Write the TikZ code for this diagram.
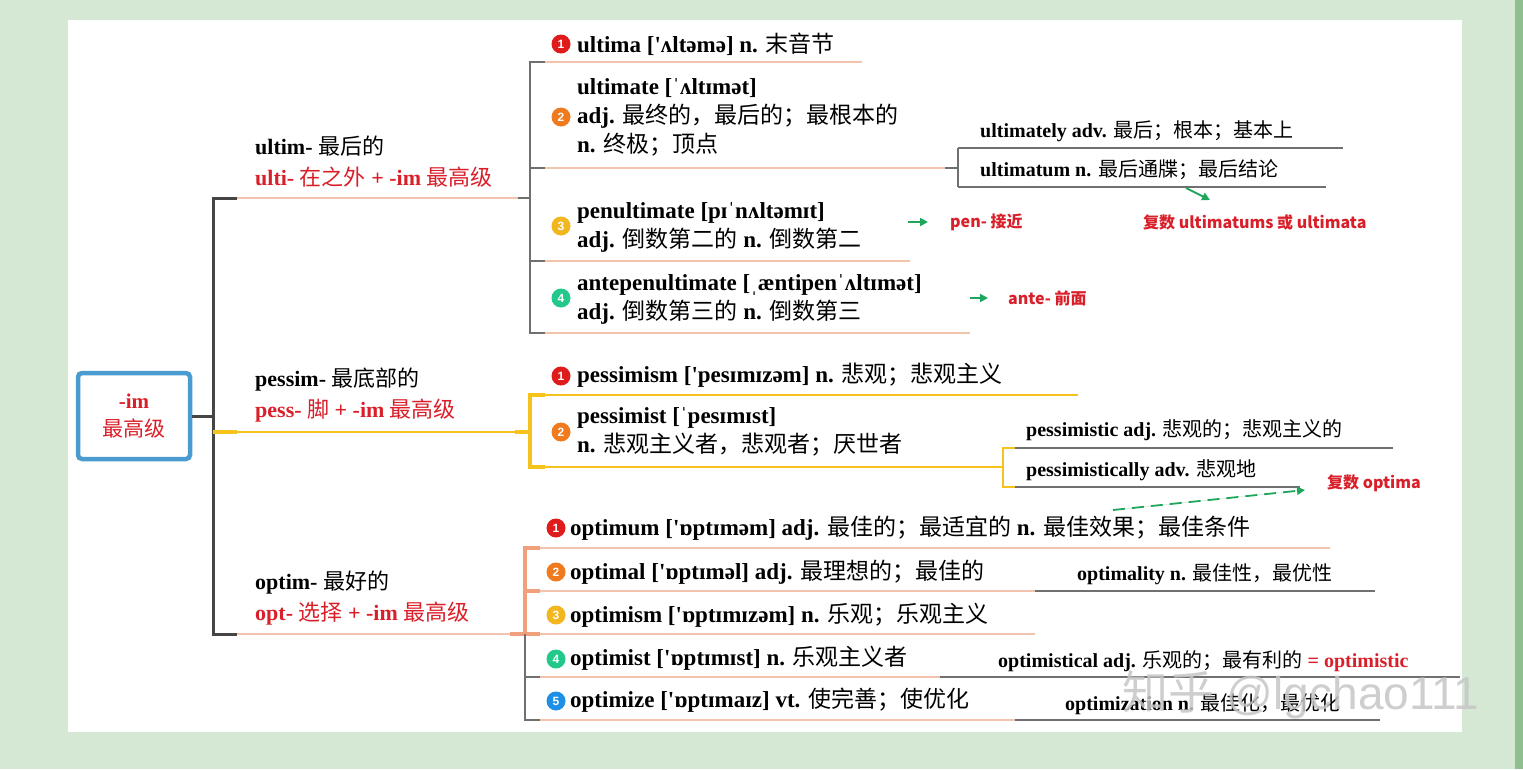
\documentclass[tikz,border=0pt]{standalone}
\usepackage{fontspec}
\setmainfont{Liberation Serif}
\setsansfont{Liberation Sans}
\newfontfamily\cjk{Noto Sans CJK SC}
\newcommand\zh[1]{{\cjk\mdseries #1}}
\usetikzlibrary{positioning,arrows.meta}
\definecolor{bgreen}{HTML}{D5E8D4}
\definecolor{stripgreen}{HTML}{8FBF8F}
\definecolor{redtxt}{HTML}{D9202A}
\definecolor{bluebox}{HTML}{4A9CD0}
\definecolor{darkln}{HTML}{454545}
\definecolor{grayln}{HTML}{707070}
\definecolor{peach}{HTML}{F2C4AE}
\definecolor{yellowln}{HTML}{F6C21C}
\definecolor{salmon}{HTML}{F0A07A}
\definecolor{arrowgreen}{HTML}{1FA65A}
\definecolor{n1}{HTML}{E01B1B}
\definecolor{n2}{HTML}{F07A1E}
\definecolor{n3}{HTML}{F2B61E}
\definecolor{n4}{HTML}{22C98A}
\definecolor{n5}{HTML}{1E8FE6}
\tikzset{
  word/.style={anchor=west,inner sep=0pt,align=left,font=\bfseries\fontsize{23}{29}\selectfont},
  stem/.style={anchor=west,inner sep=0pt,align=left,font=\bfseries\fontsize{22}{31}\selectfont},
  side/.style={anchor=west,inner sep=0pt,font=\bfseries\fontsize{20}{24}\selectfont},
  note/.style={anchor=west,inner sep=0pt,text=redtxt,font=\cjk\bfseries\fontsize{16}{18}\selectfont},
  num/.style={circle,fill=#1,text=white,inner sep=0pt,minimum size=19pt,font=\sffamily\bfseries\fontsize{12}{12}\selectfont},
  trunk/.style={draw=darkln,line width=3pt},
  twig/.style={draw=peach,line width=1.2pt},
  thin/.style={draw=grayln,line width=1.2pt},
  hint/.style={-{Triangle[length=8pt,width=8pt]},draw=arrowgreen,fill=arrowgreen,line width=1.8pt}
}
\begin{document}
\begin{tikzpicture}[x=1pt,y=-1pt]
\useasboundingbox (0,0) rectangle (1523,769);
\fill[bgreen] (0,0) rectangle (1523,769);
\fill[stripgreen] (1515,0) rectangle (1523,769);
\fill[white] (68,20) rectangle (1462,732);

% root and stems
\node[draw=bluebox,line width=4.5pt,rounded corners=4pt,minimum width=112pt,minimum height=86pt,
  align=center,text=redtxt,font=\bfseries\fontsize{21}{28}\selectfont] (root) at (134,416) {-im\\\zh{最高级}};
\node[stem] (ultim) at (255,162) {ultim- \zh{最后的}\\\color{redtxt}ulti- \zh{在之外} + -im \zh{最高级}};
\node[stem] (pessim) at (255,395) {pessim- \zh{最底部的}\\\color{redtxt}pess- \zh{脚} + -im \zh{最高级}};
\node[stem] (optim) at (255,598) {optim- \zh{最好的}\\\color{redtxt}opt- \zh{选择} + -im \zh{最高级}};

\draw[trunk] (root.east) -- (213,416);
\draw[trunk] (237,198) -- (213,198) -- (213,634) -- (237,634);
\draw[twig] (237,198) -- (530,198);
\draw[draw=yellowln,line width=1.5pt] (213,432) -- (530,432);
\draw[draw=yellowln,line width=4pt] (213,432) -- (237,432) (515,432) -- (530,432);
\draw[twig] (237,634) -- (510,634);

% ultim- words
\node[num=n1] (c11) at (561,44) {1};
\node[word] (ultima) at (577,44) {ultima [\textquotesingle ʌltəmə] n. \zh{末音节}};
\node[num=n2] (c12) at (561,117) {2};
\node[word] (ultimate) at (577,117) {ultimate [ˈʌltɪmət]\\adj. \zh{最终的，最后的；最根本的}\\n. \zh{终极；顶点}};
\node[num=n3] (c13) at (561,226) {3};
\node[word] (penult) at (577,227) {penultimate [pɪˈnʌltəmɪt]\\adj. \zh{倒数第二的} n. \zh{倒数第二}};
\node[num=n4] (c14) at (561,298) {4};
\node[word] (antepen) at (577,299) {antepenultimate [ˌæntipenˈʌltɪmət]\\adj. \zh{倒数第三的} n. \zh{倒数第三}};

\draw[thin] (545,62) -- (530,62) -- (530,333) -- (545,333);
\draw[thin] (530,168) -- (545,168) (530,261) -- (545,261) (518,198) -- (530,198);
\draw[twig] (545,62) -- (862,62) (545,168) -- (945,168) (545,261) -- (910,261) (545,333) -- (970,333);
\draw[thin] (945,168) -- (958,168) (958,148) -- (958,187);
\draw[thin] (958,148) -- (1343,148) (958,187) -- (1326,187);
\node[side] (ultimately) at (980,131) {ultimately adv. \zh{最后；根本；基本上}};
\node[side] (ultimatum) at (980,170) {ultimatum n. \zh{最后通牒；最后结论}};

\node[note] (pen) at (950,222) {pen- 接近};
\node[note] (ante) at (1008,298) {ante- 前面};
\node[note] (plural1) at (1143,222) {复数 ultimatums 或 ultimata};
\coordinate (a1) at (908,222); \coordinate (b1) at (928,222);
\coordinate (a2) at (970,298); \coordinate (b2) at (988,298);
\draw[hint] (a1) -- (b1);
\draw[hint] (a2) -- (b2);
\draw[hint] (1186,188) -- (1210,200);

% pessim- words
\node[num=n1] (c21) at (561,376) {1};
\node[word] (pessimism) at (577,375) {pessimism [\textquotesingle pesɪmɪzəm] n. \zh{悲观；悲观主义}};
\node[num=n2] (c22) at (561,432) {2};
\node[word] (pessimist) at (577,432) {pessimist [ˈpesɪmɪst]\\n. \zh{悲观主义者，悲观者；厌世者}};
\draw[draw=yellowln,line width=4pt] (545,395) -- (530,395) -- (530,467) -- (545,467);
\draw[draw=yellowln,line width=1.2pt] (545,395) -- (1078,395) (545,467) -- (1003,467);
\draw[draw=yellowln,line width=1.2pt] (1015,448) -- (1003,448) -- (1003,487) -- (1015,487);
\draw[thin] (1015,448) -- (1393,448) (1015,487) -- (1300,487);
\node[side] (pessimistic) at (1026,430) {pessimistic adj. \zh{悲观的；悲观主义的}};
\node[side] (pessimistically) at (1026,470) {pessimistically adv. \zh{悲观地}};
\node[note] (plural2) at (1327,483) {复数 optima};
\draw[hint,dashed,dash pattern=on 12pt off 7pt] (1113,510) -- (1305,490);

% optim- words
\node[num=n1] (c31) at (556,528) {1};
\node[word] (optimum) at (570,528) {optimum [\textquotesingle ɒptɪməm] adj. \zh{最佳的；最适宜的} n. \zh{最佳效果；最佳条件}};
\node[num=n2] (c32) at (556,572) {2};
\node[word] (optimal) at (570,572) {optimal [\textquotesingle ɒptɪməl] adj. \zh{最理想的；最佳的}};
\node[num=n3] (c33) at (556,615) {3};
\node[word] (optimism) at (570,615) {optimism [\textquotesingle ɒptɪmɪzəm] n. \zh{乐观；乐观主义}};
\node[num=n4] (c34) at (556,659) {4};
\node[word] (optimist) at (570,658) {optimist [\textquotesingle ɒptɪmɪst] n. \zh{乐观主义者}};
\node[num=n5] (c35) at (556,701) {5};
\node[word] (optimize) at (570,700) {optimize [\textquotesingle ɒptɪmaɪz] vt. \zh{使完善；使优化}};

\draw[draw=salmon,line width=4pt] (540,548) -- (525,548) -- (525,634);
\draw[draw=salmon,line width=4pt] (525,591) -- (540,591) (510,634) -- (540,634);
\draw[thin] (525,634) -- (525,720) -- (540,720) (525,677) -- (540,677);
\draw[twig] (540,548) -- (1330,548) (540,591) -- (1035,591) (540,634) -- (1035,634)
  (540,677) -- (940,677) (540,720) -- (1015,720);
\draw[thin] (1035,591) -- (1375,591) (940,677) -- (1460,677) (1015,720) -- (1380,720);
\node[side] (optimality) at (1077,574) {optimality n. \zh{最佳性，最优性}};
\node[side] (optimistical) at (998,661) {optimistical adj. \zh{乐观的；最有利的} \color{redtxt}= optimistic};
\node[side] (optimization) at (1065,704) {optimization n. \zh{最佳化，最优化}};

% watermark
\node[anchor=west,inner sep=0pt,text=gray!45,opacity=0.85,font=\sffamily\fontsize{46}{46}\selectfont] (mark) at (1122,695) {\zh{知乎} @lgchao111};
\end{tikzpicture}
\end{document}
